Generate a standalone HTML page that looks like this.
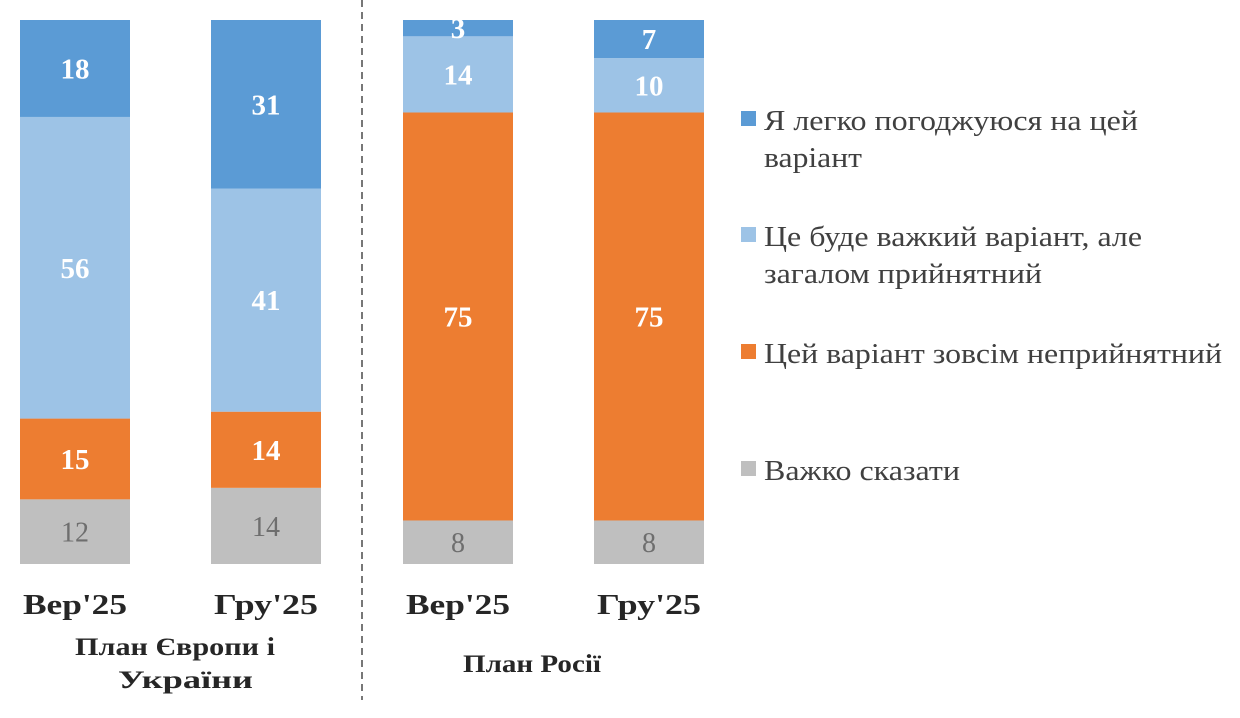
<!DOCTYPE html>
<html><head><meta charset="utf-8">
<style>
html,body{margin:0;padding:0;background:#fff;}
svg{display:block;font-family:"Liberation Serif","DejaVu Serif",serif;}
</style></head>
<body>
<svg id="chart" width="1240" height="718" viewBox="0 0 1240 718" xmlns="http://www.w3.org/2000/svg">
<line x1="362" y1="0" x2="362" y2="700" stroke="#777" stroke-width="2" stroke-dasharray="7,5"/>
<g id="bars"></g>
<g id="labels"></g>
<text x="75" y="655" font-size="25" font-weight="bold" fill="#262626" textLength="200" lengthAdjust="spacingAndGlyphs">План Європи і</text>
<text x="118" y="688" font-size="25" font-weight="bold" fill="#262626" textLength="135" lengthAdjust="spacingAndGlyphs">України</text>
<text x="463" y="672" font-size="25" font-weight="bold" fill="#262626" textLength="138" lengthAdjust="spacingAndGlyphs">План Росії</text>
<g id="legend"></g>
</svg>
<script>
const categories = ["Вер'25","Гру'25","Вер'25","Гру'25"];
const easyAgree = [18,31,3,7];
const hardAcceptable = [56,41,14,10];
const unacceptable = [15,14,75,75];
const hardToSay = [12,14,8,8];
const seriesNames = ["Я легко погоджуюся на цей варіант","Це буде важкий варіант, але загалом прийнятний","Цей варіант зовсім неприйнятний","Важко сказати"];

const NS="http://www.w3.org/2000/svg";
const barX=[20,211,403,594], barW=110, yTop=20, yBottom=564;
const colors=["#5b9bd5","#9dc3e6","#ed7d31","#bfbfbf"];
const series=[hardToSay,unacceptable,hardAcceptable,easyAgree];
const colIdx=[3,2,1,0];
const gB=document.getElementById('bars'), gL=document.getElementById('labels');
function mk(tag,attrs,parent){const e=document.createElementNS(NS,tag);for(const k in attrs)e.setAttribute(k,attrs[k]);parent.appendChild(e);return e;}
categories.forEach((c,i)=>{
  const total=series.reduce((s,a)=>s+a[i],0);
  const scale=(yBottom-yTop)/total;
  let y=yBottom;
  series.forEach((arr,s)=>{
    const h=arr[i]*scale; y-=h;
    const r=mk('rect',{x:barX[i],y:y,width:barW,height:h,fill:colors[colIdx[s]]},gB);
    
    
    const isGray=colIdx[s]===3;
    const t=mk('text',{x:barX[i]+barW/2,y:y+h/2+10,'text-anchor':'middle','font-size':isGray?28:29,'font-weight':isGray?'normal':'bold',fill:isGray?'#6e6e6e':'#fff'},gL);
    t.textContent=arr[i];
    
    
  });
  const ct=mk('text',{x:barX[i]+barW/2-52,y:614,'font-size':29,'font-weight':'bold',fill:'#262626',textLength:104,lengthAdjust:'spacingAndGlyphs'},gL);
  ct.textContent=c;
  
  
});
const legendLines=[["Я легко погоджуюся на цей","варіант"],["Це буде важкий варіант, але","загалом прийнятний"],["Цей варіант зовсім неприйнятний"],["Важко сказати"]];
const legendWidths=[[374,98],[378,278],[458],[196]];
const legY=[111,227,344,461];
const gLeg=document.getElementById('legend');
legendLines.forEach((lines,i)=>{
  const g=mk('g',{},gLeg);
  
  
  mk('rect',{x:741,y:legY[i],width:15,height:15,fill:colors[i]},g);
  lines.forEach((ln,j)=>{
    const t=mk('text',{x:764,y:legY[i]+19+j*37,'font-size':28,fill:'#404040',textLength:legendWidths[i][j],lengthAdjust:'spacingAndGlyphs'},g);
    t.textContent=ln;
  });
});
</script>
</body></html>
